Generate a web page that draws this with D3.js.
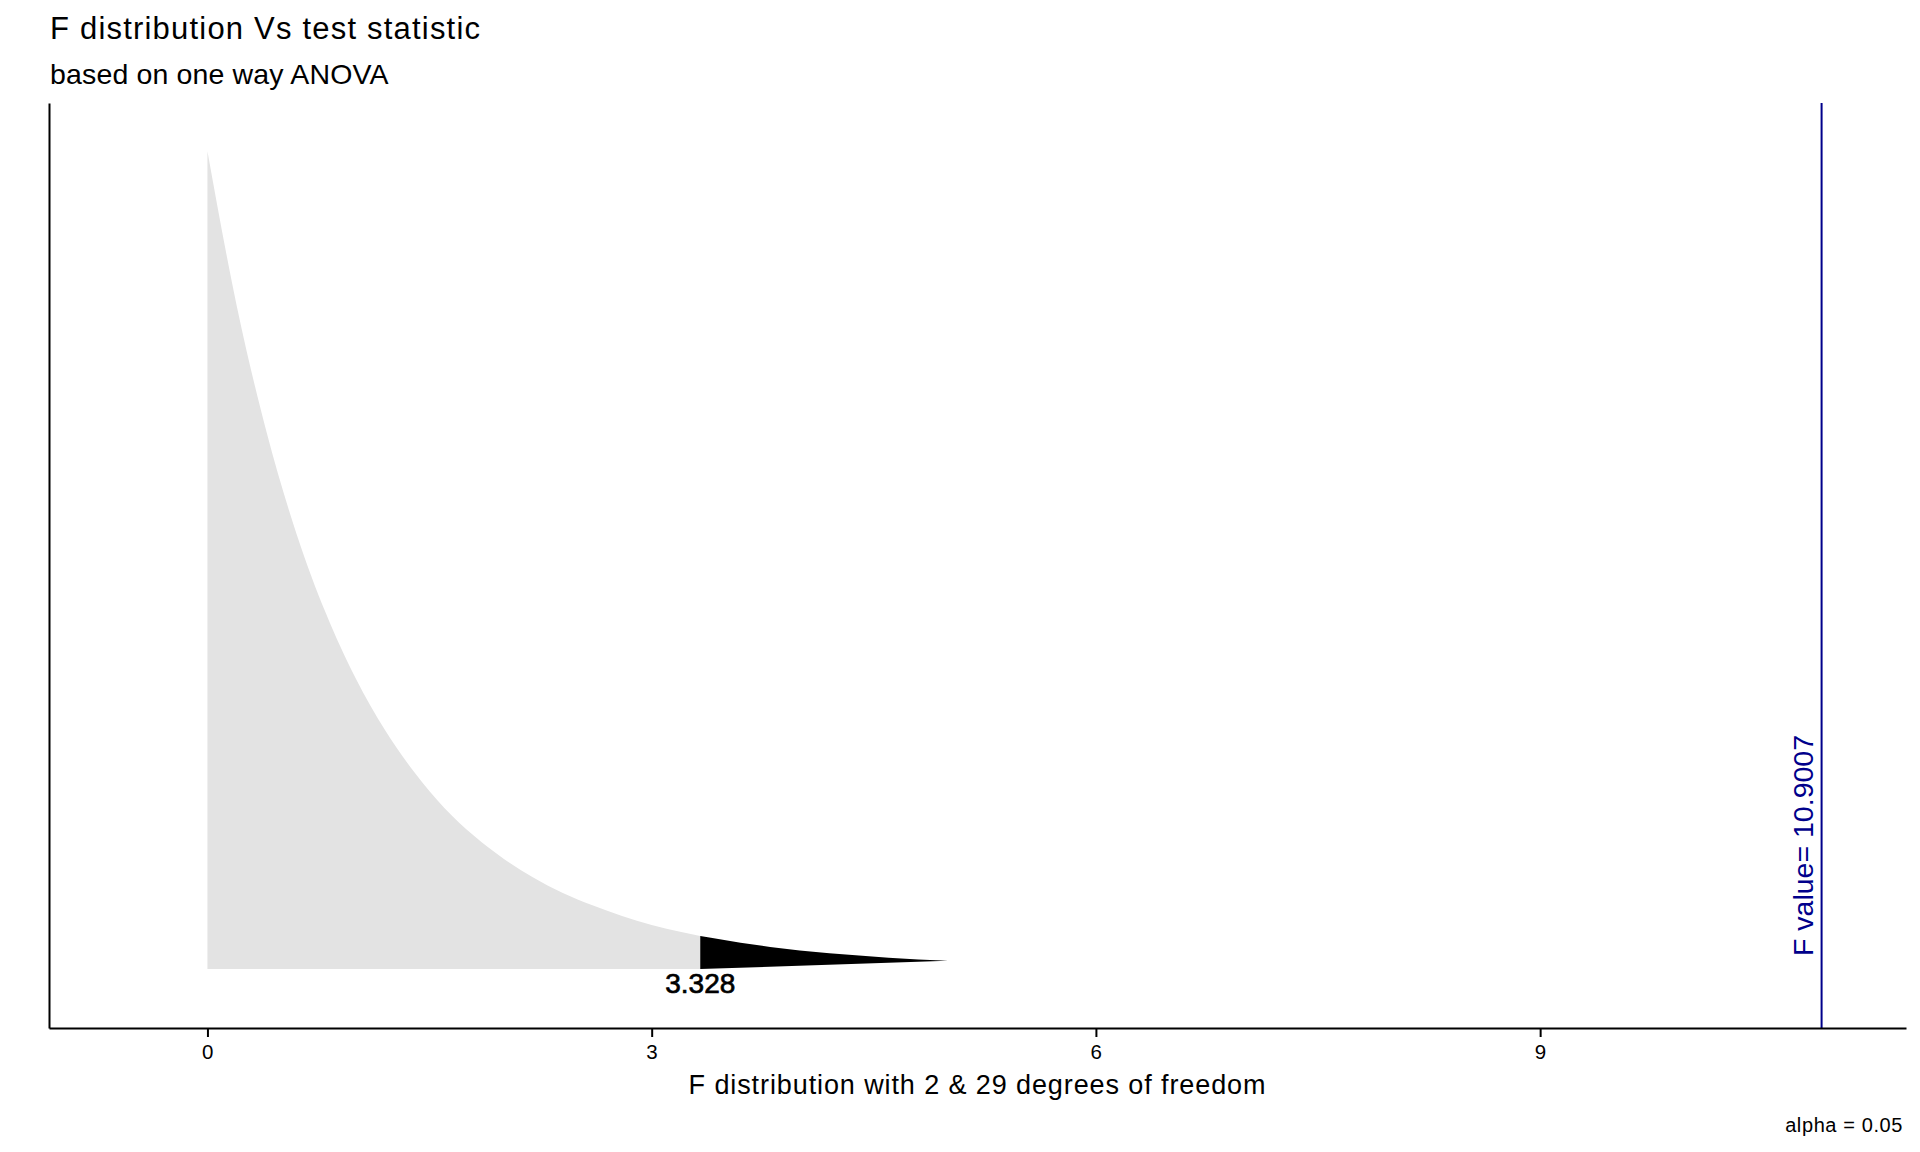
<!DOCTYPE html>
<html>
<head>
<meta charset="utf-8">
<script src="https://cdn.jsdelivr.net/npm/d3@7"></script>
<style>
  body { margin: 0; background: #fff; }
  svg { display: block; font-family: "Liberation Sans", Arial, sans-serif; }
  .axis path, .axis line { stroke: #000; stroke-width: 2; }
  .axis text { fill: #000; font-size: 20.5px; letter-spacing: 0.4px; }
</style>
</head>
<body>
<div id="container"></div>
<script>
"use strict";

const fGrid = [0, 0.2, 0.4, 0.6, 0.8, 1.0, 1.2, 1.4, 1.6, 1.8, 2.0, 2.2, 2.4,
    2.6, 2.8, 3.0, 3.2, 3.328, 3.4, 3.6, 3.8, 4.0, 4.2, 4.4, 4.6, 4.8, 5.0];
const density = [1.000, 0.809, 0.656, 0.533, 0.435, 0.356, 0.292, 0.240,
    0.197, 0.163, 0.135, 0.112, 0.093, 0.078, 0.065, 0.054, 0.0455, 0.0406,
    0.0382, 0.0322, 0.0271, 0.0229, 0.0194, 0.0165, 0.0140, 0.0119, 0.0101];
const critValue = 3.328;
const fValue = 10.9007;
const xTicks = [0, 3, 6, 9];
const xLimits = [-0.5, fValue];   // data extent on x (ggplot adds 5% each side)
const yDomain = [-0.072, 1.059];  // expanded density range

const width = 1920,
    height = 1152;
const panel = {left: 49, right: 1906, top: 103, bottom: 1028};

const svg = d3.select("#container").append("svg")
    .attr("width", width)
    .attr("height", height);

const pad = (xLimits[1] - xLimits[0]) * 0.05;
const x = d3.scaleLinear()
    .domain([xLimits[0] - pad, xLimits[1] + pad])
    .range([panel.left, panel.right]);
const y = d3.scaleLinear()
    .domain(yDomain)
    .range([panel.bottom, panel.top]);

const pts = fGrid.map((v, i) => ({x: v, y: density[i]}));

const area = d3.area()
    .x(d => x(d.x))
    .y0(y(0))
    .y1(d => y(d.y))
    .curve(d3.curveMonotoneX);

// body of the distribution
svg.append("path")
    .datum(pts.filter(d => d.x <= critValue))
    .attr("fill", "#e3e3e3")
    .attr("d", area);

// rejection region: polygon closed back to (critValue, 0)
const tail = [{x: critValue, y: 0}].concat(pts.filter(d => d.x >= critValue));
svg.append("path")
    .datum(tail)
    .attr("fill", "#000")
    .attr("d", d3.line().x(d => x(d.x)).y(d => y(d.y))(tail) + "Z");

svg.append("text")
    .attr("x", x(critValue))
    .attr("y", 993)
    .attr("text-anchor", "middle")
    .attr("font-size", 28)
    .attr("fill", "#000")
    .attr("stroke", "#000")
    .attr("stroke-width", 0.7)
    .text(critValue.toFixed(3));

// observed F value
svg.append("line")
    .attr("x1", x(fValue)).attr("x2", x(fValue))
    .attr("y1", panel.top).attr("y2", panel.bottom)
    .attr("stroke", "#00008b")
    .attr("stroke-width", 2);

svg.append("text")
    .attr("transform", `translate(${x(fValue) - 9}, 956) rotate(-90)`)
    .attr("font-size", 28.5)
    .attr("fill", "#00008b")
    .text("F value= " + fValue);

// axes
svg.append("g")
    .attr("class", "axis")
    .attr("transform", `translate(0, ${panel.bottom})`)
    .call(d3.axisBottom(x).tickValues(xTicks).tickSize(9)
        .tickSizeOuter(0).tickPadding(7));

svg.append("g")
    .attr("class", "axis")
    .attr("transform", `translate(${panel.left}, 0)`)
    .call(d3.axisLeft(y).tickValues([]).tickSizeOuter(0));

// titles
svg.append("text")
    .attr("x", 50)
    .attr("y", 39)
    .attr("font-size", 31)
    .attr("letter-spacing", 1.2)
    .text("F distribution Vs test statistic");

svg.append("text")
    .attr("x", 50)
    .attr("y", 84)
    .attr("font-size", 28.5)
    .attr("letter-spacing", 0.15)
    .text("based on one way ANOVA");

svg.append("text")
    .attr("x", (panel.left + panel.right) / 2)
    .attr("y", 1094)
    .attr("text-anchor", "middle")
    .attr("font-size", 27)
    .attr("letter-spacing", 0.9)
    .text("F distribution with 2 & 29 degrees of freedom");

svg.append("text")
    .attr("x", 1903)
    .attr("y", 1132)
    .attr("text-anchor", "end")
    .attr("font-size", 20)
    .attr("letter-spacing", 0.6)
    .text("alpha = 0.05");
</script>
</body>
</html>
